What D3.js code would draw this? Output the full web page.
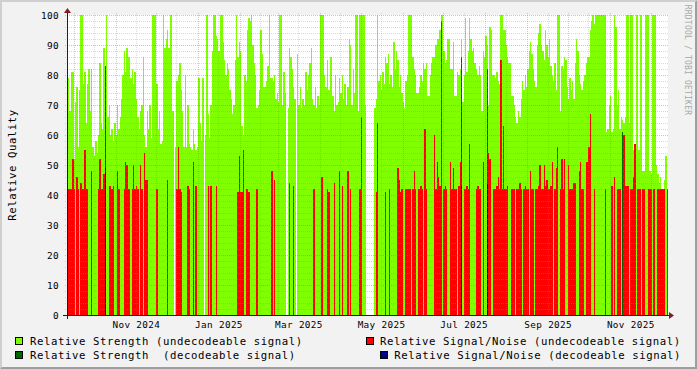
<!DOCTYPE html>
<html><head><meta charset="utf-8">
<script src="https://cdn.jsdelivr.net/npm/d3@7"></script>
<style>
html,body{margin:0;padding:0;background:#F2F2F2;}
svg{display:block;}
text{font-family:"DejaVu Sans Mono",monospace;}
</style></head><body>
<svg id="chart" width="697" height="369"></svg>
<script>
// ---- data (one value per day, starting 2024-09-26) ----
const firstDay = Date.UTC(2024, 8, 26);
const strengthUndecodeable = [
null,79,68,81,81,52,71,76,56,75,
100,100,77,81,64,77,82,68,82,56,
53,58,54,60,84,64,62,89,60,100,
66,70,60,62,58,64,60,70,62,66,
72,80,88,81,89,86,86,79,82,77,
81,72,66,62,68,70,86,60,56,68,
62,70,59,100,100,100,77,62,68,57,
58,100,89,92,95,89,100,100,68,null,
56,78,80,84,75,68,56,80,56,70,
57,56,55,62,57,55,56,79,64,58,
79,null,60,100,67,59,70,88,100,100,
93,92,88,100,100,91,85,80,84,82,
75,72,67,70,85,100,86,91,88,63,
60,80,78,95,99,98,100,90,84,80,
69,70,75,95,87,76,76,78,83,100,
79,79,78,80,72,74,71,100,100,70,
81,74,null,69,89,86,82,76,72,null,
87,70,76,69,72,70,81,75,80,84,
89,72,70,76,69,73,70,100,100,100,
80,76,85,75,86,86,73,68,80,70,
71,79,74,80,72,77,70,76,92,90,
70,82,74,100,100,68,100,100,100,100,
70,null,null,null,null,null,null,69,72,100,
78,80,75,81,77,86,84,87,77,80,
76,91,82,88,85,76,80,74,71,69,
78,80,100,100,100,86,82,80,74,74,
76,80,78,84,82,84,73,73,80,84,
86,86,90,92,92,95,100,100,88,84,
85,92,92,82,82,91,73,73,81,80,
82,92,71,80,99,81,88,99,92,88,
89,84,82,80,83,80,68,88,86,93,
90,70,96,95,80,80,79,81,78,77,
100,100,95,95,90,86,84,84,73,73,
70,66,64,68,66,72,78,75,80,76,
82,88,91,87,82,78,76,90,94,97,
90,88,85,95,90,86,92,83,80,78,
84,75,100,100,68,83,82,86,85,76,
72,79,75,78,72,84,92,88,80,77,
75,78,80,84,86,86,95,98,100,97,
100,100,100,100,100,100,100,100,61,62,
70,73,61,62,100,96,70,75,62,66,
65,64,66,100,100,64,100,100,55,53,
100,100,55,100,100,48,48,100,100,100,
48,47,100,100,100,50,47,44,46,42,
42,45,53,42];
const snrUndecodeable = [
null,42,42,42,52,42,null,46,42,null,
44,42,42,55,42,42,null,null,48,null,
null,null,null,42,52,42,42,47,null,null,
null,43,43,42,43,null,null,48,42,null,
null,null,42,51,50,42,42,null,42,50,
42,43,42,null,50,42,null,54,45,45,
null,null,null,null,null,null,42,null,null,null,
null,null,null,null,45,null,null,null,null,null,
null,42,56,42,41,null,null,null,null,43,
42,null,null,51,null,43,null,null,null,null,
null,null,null,null,43,null,43,null,null,null,
43,null,null,null,null,null,null,null,null,null,
null,null,null,null,null,null,41,53,41,41,
55,null,42,42,41,null,null,null,null,null,
42,null,null,null,null,null,null,null,null,null,
null,48,null,45,null,null,null,null,null,null,
null,null,null,null,44,null,null,43,null,null,
null,null,null,null,null,null,null,null,null,null,
null,null,42,null,null,null,null,null,46,null,
null,null,42,41,null,null,null,44,null,null,
null,48,null,43,null,null,null,48,null,42,
null,null,null,null,null,null,42,66,null,null,
null,null,null,null,null,null,null,null,41,64,
null,null,null,null,null,41,null,null,42,null,
null,null,null,null,49,45,41,42,null,null,
42,42,42,42,null,42,48,42,null,42,
42,43,42,null,62,42,null,null,null,null,
null,60,42,51,46,43,98,null,42,43,
42,null,null,51,42,49,42,42,null,43,
51,null,null,42,42,43,42,57,null,null,
null,null,42,43,42,42,null,51,null,null,
null,54,52,null,null,42,42,43,46,42,
85,42,63,42,42,43,null,null,42,42,
42,null,42,42,44,42,null,42,43,42,
42,null,48,42,42,null,42,42,43,50,
42,42,50,43,45,42,42,43,51,null,
42,49,56,null,42,52,42,52,null,null,
50,42,42,42,44,44,null,null,48,51,
42,42,null,51,51,56,67,null,null,42,
null,null,null,null,null,null,null,42,null,null,
null,null,43,null,46,null,42,42,42,null,
null,60,43,43,43,null,42,42,46,57,
null,42,42,42,null,42,42,null,null,42,
42,42,null,42,null,null,42,42,42,42,
42,42,null,42];
const decodeableDays = [28, 291, 310, 410];
const strengthDecodeable = [83, 86, 82, 61];
const snrDecodeable = [49, 43, 44, null];
const yTickValues = [0,10,20,30,40,50,60,70,80,90,100];
const legendLeft = ["Relative Strength (undecodeable signal)", "Relative Strength  (decodeable signal)"];
const legendRight = ["Relative Signal/Noise (undecodeable signal)", "Relative Signal/Noise (decodeable signal)"];
const yTitle = "Relative Quality";
const watermark = "RRDTOOL / TOBI OETIKER";

// ---- layout ----
const W = 697, H = 369;
const X0 = 67, X1 = 667, Y0 = 315, Y1 = 15;
const DAY = 864e5;
const COL = {lg:"#80FF00", dg:"#006600", red:"#FF0000", blue:"#00008B"};

const svg = d3.select("#chart");
const x = d3.scaleUtc().domain([new Date(Date.UTC(2024,8,26,4,20)), new Date(Date.UTC(2025,11,13,3,10))]).range([X0, X1]);
const y = d3.scaleLinear().domain([0,100]).range([Y0, Y1]);

// background + bevel
svg.append("rect").attr("width",W).attr("height",H).attr("fill","#F2F2F2");
svg.append("path").attr("d",`M0,0H${W}L${W-2},2H2V${H-2}L0,${H}Z`).attr("fill","#CFCFCF");
svg.append("path").attr("d",`M${W},${H}H0L2,${H-2}H${W-2}V2L${W},0Z`).attr("fill","#9E9E9E");
svg.append("rect").attr("x",X0).attr("y",Y1).attr("width",X1-X0+1).attr("height",Y0-Y1).attr("fill","#fff");

const plot = svg.append("g").attr("shape-rendering","crispEdges");
function px(i){ return Math.round(x(new Date(firstDay + i*DAY))); }
function bars(data, days, color){
  plot.append("g").selectAll("rect").data(data.map((v,k)=>({v, i: days ? days[k] : k})).filter(d=>d.v!=null))
    .join("rect")
    .attr("x", d=>Math.max(X0, px(d.i)))
    .attr("width", d=>Math.min(X1+1, px(d.i+1)) - Math.max(X0, px(d.i)))
    .attr("y", d=>Math.round(y(d.v)))
    .attr("height", d=>Y0 - Math.round(y(d.v)))
    .attr("fill", color);
}
bars(strengthUndecodeable, null, COL.lg);
bars(strengthDecodeable, decodeableDays, COL.dg);
bars(snrUndecodeable, null, COL.red);
bars(snrDecodeable, decodeableDays, COL.blue);

// grid (drawn over data, like rrdtool)
const grid = svg.append("g").attr("shape-rendering","crispEdges").attr("stroke-width",1);
const minorY = d3.range(0,101,2).filter(v=>v%10!==0);
minorY.forEach(v=>{
  const yy = Math.round(y(v))+0.5;
  grid.append("line").attr("x1",X0-2).attr("x2",X1+2).attr("y1",yy).attr("y2",yy)
    .attr("stroke","#8F8F8F").attr("stroke-opacity",0.35).attr("stroke-dasharray","1,1");
});
yTickValues.forEach(v=>{
  const yy = Math.round(y(v))+0.5;
  grid.append("line").attr("x1",X0-2).attr("x2",X1+2).attr("y1",yy).attr("y2",yy)
    .attr("stroke","#DE4F4F").attr("stroke-opacity",0.42).attr("stroke-dasharray","1,1");
});
const months = d3.utcMonth.range(new Date(Date.UTC(2024,9,1)), new Date(Date.UTC(2025,11,14)));
const mids = months.map(m=>d3.utcDay.offset(m,15));
mids.forEach(t=>{
  const xx = Math.round(x(t))+0.5;
  if (xx < X0 || xx > X1) return;
  grid.append("line").attr("x1",xx).attr("x2",xx).attr("y1",Y1-2).attr("y2",Y0+2)
    .attr("stroke","#8F8F8F").attr("stroke-opacity",0.3).attr("stroke-dasharray","1,1");
});
months.forEach(t=>{
  const xx = Math.round(x(t))+0.5;
  if (xx < X0 || xx > X1) return;
  grid.append("line").attr("x1",xx).attr("x2",xx).attr("y1",Y1-2).attr("y2",Y0+2)
    .attr("stroke","#DE4F4F").attr("stroke-opacity",0.38).attr("stroke-dasharray","1,1");
});

// axes lines + arrows
const ax = svg.append("g");
ax.append("line").attr("x1",X0-4).attr("x2",X1+4).attr("y1",Y0+0.5).attr("y2",Y0+0.5).attr("stroke","#1F1F1F").attr("stroke-width",1).attr("shape-rendering","crispEdges");
ax.append("line").attr("x1",X0+0.5).attr("x2",X0+0.5).attr("y1",Y0+4).attr("y2",Y1-4).attr("stroke","#1F1F1F").attr("stroke-width",1).attr("shape-rendering","crispEdges");
ax.append("path").attr("d",`M${X1+2},${Y0-3}L${X1+2},${Y0+4}L${X1+7},${Y0+0.5}Z`).attr("fill","#801F1F");
ax.append("path").attr("d",`M${X0-3},${Y1-2}L${X0+4},${Y1-2}L${X0+0.5},${Y1-7}Z`).attr("fill","#801F1F");

// y tick labels
const yAxis = svg.append("g").attr("transform",`translate(${X0},0)`)
  .call(d3.axisLeft(y).tickValues(yTickValues).tickSize(0).tickPadding(8).tickFormat(d3.format("d")));
yAxis.select(".domain").remove();
yAxis.selectAll("text").attr("font-family","DejaVu Sans Mono").attr("font-size","9.33px").attr("letter-spacing","0.35px").attr("fill","#000");

// x labels (centered mid-month, every second month)
const labelDates = d3.utcMonth.every(2).range(new Date(Date.UTC(2024,9,15)), new Date(Date.UTC(2025,11,1))).map(m=>d3.utcDay.offset(m,15));
const xAxis = svg.append("g").attr("transform",`translate(0,${Y0})`)
  .call(d3.axisBottom(x).tickValues(labelDates).tickSize(0).tickPadding(6).tickFormat(d3.utcFormat("%b %Y")));
xAxis.select(".domain").remove();
xAxis.selectAll("text").attr("font-family","DejaVu Sans Mono").attr("font-size","9.33px").attr("letter-spacing","0.35px").attr("fill","#000");

// y title
svg.append("text").attr("transform","translate(16,165) rotate(-90)").attr("text-anchor","middle")
  .attr("font-size","10.67px").attr("letter-spacing","0.55px").attr("fill","#000").text(yTitle);
// watermark
svg.append("text").attr("transform","translate(684.5,60) rotate(90)").attr("text-anchor","middle")
  .attr("font-size","8px").attr("letter-spacing","0.2px").attr("fill","#A8A8A8").text(watermark);

// legend
const lg = svg.append("g").attr("font-size","10.67px").attr("letter-spacing","0.58px").style("white-space","pre");
const legendItems = [
  {bx:15, tx:30, yb:345, text:legendLeft[0], c:COL.lg},
  {bx:15, tx:30, yb:358.5, text:legendLeft[1], c:COL.dg},
  {bx:366, tx:380, yb:345, text:legendRight[0], c:COL.red},
  {bx:380, tx:394.3, yb:358.5, text:legendRight[1], c:COL.blue}
];
legendItems.forEach(it=>{
  lg.append("rect").attr("x",it.bx+0.5).attr("y",it.yb-7.5).attr("width",7).attr("height",7)
    .attr("fill",it.c).attr("stroke","#000").attr("stroke-width",1).attr("shape-rendering","crispEdges");
  lg.append("text").attr("x",it.tx).attr("y",it.yb).attr("fill","#000").attr("xml:space","preserve").text(it.text);
});
</script>
</body></html>
